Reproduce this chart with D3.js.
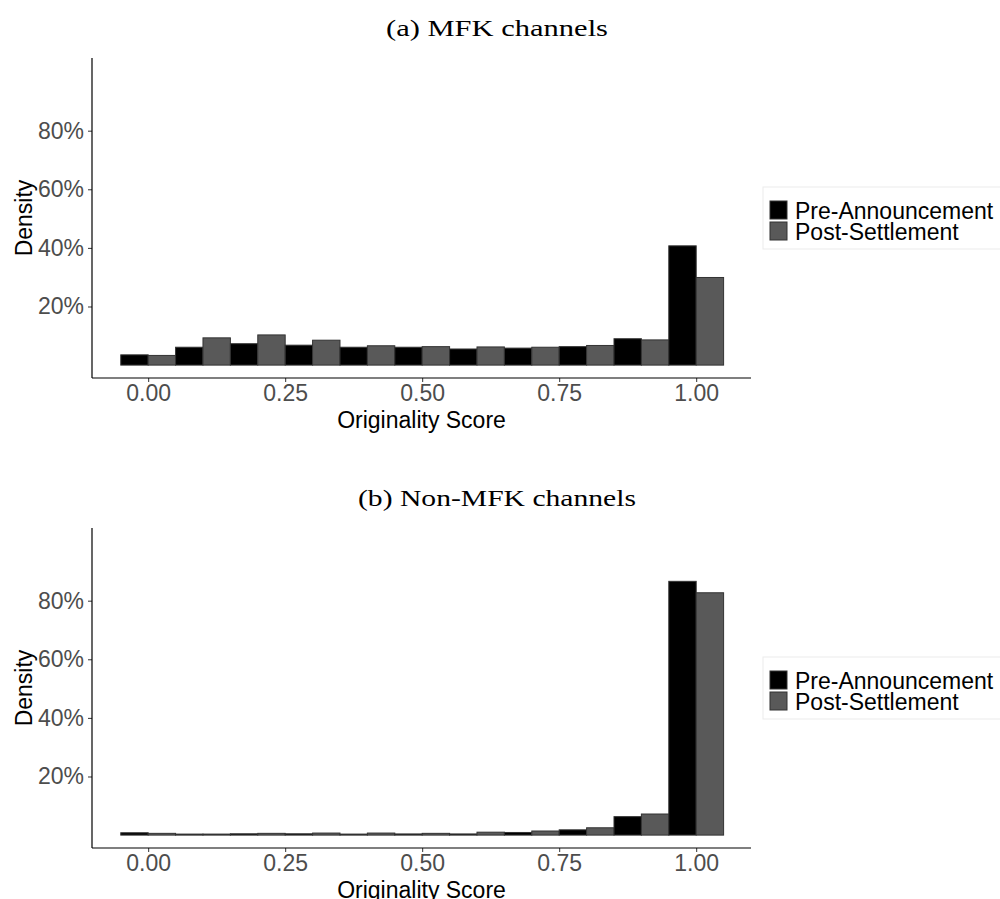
<!DOCTYPE html>
<html>
<head>
<meta charset="utf-8">
<script src="https://cdn.jsdelivr.net/npm/d3@7"></script>
<style>
  body { margin: 0; background: #fff; }
  svg { display: block; }
</style>
</head>
<body>
<svg id="chart" width="1000" height="899"></svg>
<script>
// bin centres of the originality score histogram (bin width 0.1)
var bins = [0, 0.1, 0.2, 0.3, 0.4, 0.5, 0.6, 0.7, 0.8, 0.9, 1.0];
var groups = ["Pre-Announcement", "Post-Settlement"];
var xTicks = [0, 0.25, 0.5, 0.75, 1];
var yTicks = [0.2, 0.4, 0.6, 0.8];

// panel (a) MFK channels
var mfkPre  = [0.035, 0.061, 0.073, 0.068, 0.061, 0.061, 0.055, 0.058, 0.063, 0.090, 0.407];
var mfkPost = [0.033, 0.093, 0.103, 0.085, 0.066, 0.063, 0.062, 0.061, 0.067, 0.086, 0.299];

// panel (b) Non-MFK channels
var nonPre  = [0.008, 0.0035, 0.0045, 0.0045, 0.0035, 0.004, 0.004, 0.009, 0.018, 0.063, 0.866];
var nonPost = [0.006, 0.0035, 0.006, 0.007, 0.007, 0.006, 0.010, 0.014, 0.025, 0.072, 0.827];

var panels = [
  { title: "(a) MFK channels", titleWidth: 222, pre: mfkPre, post: mfkPost, offset: 0 },
  { title: "(b) Non-MFK channels", titleWidth: 278, pre: nonPre, post: nonPost, offset: 470 }
];

var PLOT = { left: 92, right: 751, top: 58, bottom: 378 };
var colours = ["#000000", "#595959"];
var sans = "'Liberation Sans', Arial, sans-serif";

var svg = d3.select("#chart");

function drawPanel(p) {
  var g = svg.append("g")
    .attr("transform", "translate(0," + p.offset + ")");

  var x = d3.scaleLinear()
    .domain([-0.1025, 1.1])
    .range([PLOT.left, PLOT.right]);

  var y = d3.scaleLinear()
    .domain([-0.044, 1.048])
    .range([PLOT.bottom, PLOT.top]);

  var half = 0.05;

  // caption set in a wide serif, stretched to the reference width
  g.append("text")
    .attr("x", 497)
    .attr("y", 36)
    .attr("text-anchor", "middle")
    .attr("font-family", "'Liberation Serif', 'DejaVu Serif', serif")
    .attr("font-size", "23px")
    .attr("textLength", p.titleWidth)
    .attr("lengthAdjust", "spacingAndGlyphs")
    .attr("fill", "#000")
    .text(p.title);

  // dodged bars: pre on the left half of each bin, post on the right
  var rows = [];
  bins.forEach(function(b, i) {
    rows.push({ x0: b - half, x1: b, v: p.pre[i], k: 0 });
    rows.push({ x0: b, x1: b + half, v: p.post[i], k: 1 });
  });

  g.selectAll(".bar")
    .data(rows)
    .enter()
    .append("rect")
    .attr("class", "bar")
    .attr("x", function(d) { return x(d.x0); })
    .attr("width", function(d) { return x(d.x1) - x(d.x0); })
    .attr("y", function(d) { return y(d.v); })
    .attr("height", function(d) { return y(0) - y(d.v); })
    .attr("fill", function(d) { return colours[d.k]; })
    .attr("stroke", "#333")
    .attr("stroke-width", 1);

  var yAxis = d3.axisLeft(y)
    .tickValues(yTicks)
    .tickSize(4)
    .tickPadding(4)
    .tickFormat(d3.format(".0%"));

  var yg = g.append("g")
    .attr("transform", "translate(" + PLOT.left + ",0)")
    .call(yAxis);

  var xAxis = d3.axisBottom(x)
    .tickValues(xTicks)
    .tickSize(4)
    .tickPadding(3)
    .tickFormat(d3.format(".2f"));

  var xg = g.append("g")
    .attr("transform", "translate(0," + PLOT.bottom + ")")
    .call(xAxis);

  [yg, xg].forEach(function(a) {
    a.select(".domain").remove();
    a.selectAll(".tick line").attr("stroke", "#333").attr("stroke-width", 1);
    a.selectAll(".tick text")
      .attr("fill", "#4d4d4d")
      .attr("font-family", sans)
      .attr("font-size", "23px");
  });

  // axis lines (classic theme)
  g.append("line")
    .attr("x1", PLOT.left).attr("x2", PLOT.left)
    .attr("y1", PLOT.top).attr("y2", PLOT.bottom)
    .attr("stroke", "#000").attr("stroke-width", 1.2);
  g.append("line")
    .attr("x1", PLOT.left).attr("x2", PLOT.right)
    .attr("y1", PLOT.bottom).attr("y2", PLOT.bottom)
    .attr("stroke", "#000").attr("stroke-width", 1.2);

  g.append("text")
    .attr("x", (PLOT.left + PLOT.right) / 2)
    .attr("y", 428)
    .attr("text-anchor", "middle")
    .attr("font-family", sans)
    .attr("font-size", "23px")
    .attr("fill", "#000")
    .text("Originality Score");

  g.append("text")
    .attr("transform", "translate(32," + (PLOT.top + PLOT.bottom) / 2 + ") rotate(-90)")
    .attr("text-anchor", "middle")
    .attr("font-family", sans)
    .attr("font-size", "23px")
    .attr("fill", "#000")
    .text("Density");

  // legend
  var lg = g.append("g").attr("class", "legend");
  lg.append("rect")
    .attr("x", 763).attr("y", 187)
    .attr("width", 245).attr("height", 62)
    .attr("fill", "#fff")
    .attr("stroke", "#ebebeb");

  groups.forEach(function(name, i) {
    lg.append("rect")
      .attr("x", 770).attr("y", 201 + i * 21)
      .attr("width", 17).attr("height", 18)
      .attr("fill", colours[i])
      .attr("stroke", "#333")
      .attr("stroke-width", 1);
    lg.append("text")
      .attr("x", 795).attr("y", 219 + i * 21)
      .attr("font-family", sans)
      .attr("font-size", "23px")
      .attr("fill", "#000")
      .text(name);
  });
}

panels.forEach(drawPanel);
</script>
</body>
</html>
